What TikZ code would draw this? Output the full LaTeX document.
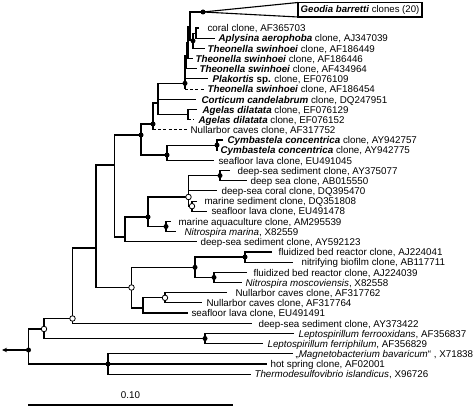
\documentclass[tikz,border=0pt]{standalone}
\usepackage{fontspec}
\setmainfont{Liberation Sans}
\usetikzlibrary{arrows.meta}
\newcommand\bi[1]{\textbf{\textit{#1}}}
\tikzset{
  lab/.style={anchor=base west, inner sep=0pt, font=\fontsize{9.8}{11}\selectfont},
  dsh/.style={dash pattern=on 3pt off 2.2pt},
  bdot/.style={circle, fill=black, inner sep=0pt, minimum size=5pt},
  wdot/.style={circle, draw=black, fill=white, line width=0.8pt, inner sep=0pt, minimum size=5.5pt},
}
\begin{document}
\begin{tikzpicture}[x=1pt,y=-1pt,line width=1.1pt]
\useasboundingbox (0,0) rectangle (474,406);
% internal nodes
\coordinate (geo) at (203,12);
\coordinate (nA) at (196,33.1);
\coordinate (nB) at (193,40.8);
\coordinate (n1) at (190,26.4);
\coordinate (n2) at (188,42.5);
\coordinate (n3) at (186.5,55.6);
\coordinate (n4) at (185,83.3);
\coordinate (nag) at (188,114.5);
\coordinate (n5) at (158,103);
\coordinate (n6) at (153,124);
\coordinate (ncy) at (217,145.1);
\coordinate (ncym) at (167,155);
\coordinate (n7) at (141,135);
\coordinate (ndd) at (220,175.6);
\coordinate (nms) at (192,206.2);
\coordinate (no1) at (188.5,197);
\coordinate (naq) at (166,226.5);
\coordinate (nds) at (148,217);
\coordinate (nd2) at (125,237);
\coordinate (n8) at (114.5,165);
\coordinate (na) at (245,257);
\coordinate (nb) at (214,277.4);
\coordinate (nfbr) at (195,267.3);
\coordinate (nnull) at (165,297.8);
\coordinate (ns) at (143,308);
\coordinate (n10) at (131.5,287.5);
\coordinate (n9) at (96,248);
\coordinate (n11) at (72.5,318.5);
\coordinate (nlep) at (205,338.5);
\coordinate (n12) at (44,329);
\coordinate (n13) at (108,364);
\coordinate (root) at (28.5,350);
\coordinate (rootend) at (2,350);
% tips
\coordinate (t0) at (199,28.0);
\coordinate (t1) at (215,38.2);
\coordinate (t2) at (205,48.4);
\coordinate (t3) at (193,58.5);
\coordinate (t4) at (197,68.7);
\coordinate (t5) at (208,78.9);
\coordinate (t6) at (204,89.1);
\coordinate (t7) at (196,99.3);
\coordinate (t8) at (197,109.4);
\coordinate (t9) at (194,119.6);
\coordinate (t10) at (187,129.8);
\coordinate (t11) at (223,140.0);
\coordinate (t12) at (218,150.2);
\coordinate (t13) at (214,160.3);
\coordinate (t14) at (230,170.5);
\coordinate (t15) at (247,180.7);
\coordinate (t16) at (217,190.9);
\coordinate (t17) at (197,201.1);
\coordinate (t18) at (207,211.2);
\coordinate (t19) at (171,221.4);
\coordinate (t20) at (176,231.6);
\coordinate (t21) at (197,241.8);
\coordinate (t22) at (272,252.0);
\coordinate (t23) at (293,262.1);
\coordinate (t24) at (247,272.3);
\coordinate (t25) at (242,282.5);
\coordinate (t26) at (227,292.7);
\coordinate (t27) at (202,302.9);
\coordinate (t28) at (188,313.0);
\coordinate (t29) at (252,323.2);
\coordinate (t30) at (294,333.4);
\coordinate (t31) at (263,343.6);
\coordinate (t32) at (293,353.8);
\coordinate (t33) at (267,364.0);
\coordinate (t34) at (251,374.1);
\coordinate (gtop) at (298,2.5);
\coordinate (gbot) at (298,17);
% branches: sponge cluster
\draw (geo) -- (gtop);
\draw (geo) -- (gbot);
\draw (t0) -| (nA) |- (t1);
\draw (nA) -| (nB) |- (t2);
\draw (geo) -| (n1) |- (nB);
\draw (n1) -| (n2) |- (t3);
\draw (n2) -| (n3) |- (t4);
\draw (n3) -| (n4) -- (n4 |- t6);
\draw (n4 |- t5) -- (t5);
\draw[dsh] (n4 |- t6) -- (t6);
\draw (t8) -| (nag) -- (nag |- t9);
\draw[dsh] (nag |- t9) -- (t9);
\draw (n4) -| (n5) |- (nag);
\draw (n5 |- t7) -- (t7);
\draw (n5) -| (n6) -- (n6 |- t10);
\draw[dsh] (n6 |- t10) -- (t10);
\draw (t11) -| (ncy) |- (t12);
\draw (ncy) -| (ncym) |- (t13);
\draw (n6) -| (n7) |- (ncym);
% deep sea cluster
\draw (t14) -| (ndd) |- (t15);
\draw (t17) -| (nms) |- (t18);
\draw (ndd) -| (no1) |- (nms);
\draw (no1 |- t16) -- (t16);
\draw (t19) -| (naq) |- (t20);
\draw (no1) -| (nds) |- (naq);
\draw (nds) -| (nd2) |- (t21);
\draw (n7) -| (n8) |- (nd2);
% lower part
\draw (t22) -| (na) |- (t23);
\draw (t24) -| (nb) |- (t25);
\draw (na) -| (nfbr) |- (nb);
\draw (t26) -| (nnull) |- (t27);
\draw (nnull) -| (ns) |- (t28);
\draw (nfbr) -| (n10) |- (ns);
\draw (n8) -| (n9) |- (n10);
\draw (n9) -| (n11) |- (t29);
\draw (t30) -| (nlep) |- (t31);
\draw (n11) -| (n12) |- (nlep);
\draw (t32) -| (n13) |- (t34);
\draw (n13) -- (t33);
\draw (n12) -| (root) |- (n13);
\draw[-{Stealth[length=5pt,width=4.5pt]}] (root) -- (rootend);
% markers
\foreach \p in {geo,nB,n4,n6,n7,ncy,ncym,ndd,naq,nds,na,nb,nfbr,nlep,n13,root}
  \node[bdot] (d\p) at (\p) {};
\foreach \p in {no1,nms,n10,nnull,n11,n12}
  \node[wdot] (w\p) at (\p) {};
% Geodia box
\draw[line width=1.5pt, fill=white] (gtop) rectangle (422,17);
\node[font=\fontsize{9.6}{11}\selectfont, inner sep=0pt] (lgeo) at (360,9.9) {\bi{Geodia barretti} clones (20)};
% labels
\node[lab] (l0) at (207,31.8) {coral clone, AF365703};
\node[lab] (l1) at (218,42.0) {\bi{Aplysina aerophoba} clone, AJ347039};
\node[lab] (l2) at (207,52.2) {\bi{Theonella swinhoei} clone, AF186449};
\node[lab] (l3) at (195,62.3) {\bi{Theonella swinhoei} clone, AF186446};
\node[lab] (l4) at (199,72.5) {\bi{Theonella swinhoei} clone, AF434964};
\node[lab] (l5) at (212,82.7) {\bi{Plakortis} \textbf{sp.} clone, EF076109};
\node[lab] (l6) at (207,92.9) {\bi{Theonella swinhoei} clone, AF186454};
\node[lab] (l7) at (201,103.1) {\bi{Corticum candelabrum} clone, DQ247951};
\node[lab] (l8) at (202,113.2) {\bi{Agelas dilatata} clone, EF076129};
\node[lab] (l9) at (198,123.4) {\bi{Agelas dilatata} clone, EF076152};
\node[lab] (l10) at (190,133.6) {Nullarbor caves clone, AF317752};
\node[lab] (l11) at (227,143.8) {\bi{Cymbastela concentrica} clone, AY942757};
\node[lab] (l12) at (220,154.0) {\bi{Cymbastela concentrica} clone, AY942775};
\node[lab] (l13) at (218,164.1) {seafloor lava clone, EU491045};
\node[lab] (l14) at (237,174.3) {deep-sea sediment clone, AY375077};
\node[lab] (l15) at (250,184.5) {deep sea clone, AB015550};
\node[lab] (l16) at (221,194.7) {deep-sea coral clone, DQ395470};
\node[lab] (l17) at (204,204.9) {marine sediment clone, DQ351808};
\node[lab] (l18) at (211,215.0) {seafloor lava clone, EU491478};
\node[lab] (l19) at (178,225.2) {marine aquaculture clone, AM295539};
\node[lab] (l20) at (184,235.4) {\textit{Nitrospira marina}, X82559};
\node[lab] (l21) at (200,245.6) {deep-sea sediment clone, AY592123};
\node[lab] (l22) at (278,255.8) {fluidized bed reactor clone, AJ224041};
\node[lab] (l23) at (301,265.9) {nitrifying biofilm clone, AB117711};
\node[lab] (l24) at (253,276.1) {fluidized bed reactor clone, AJ224039};
\node[lab] (l25) at (245,286.3) {\textit{Nitrospira moscoviensis}, X82558};
\node[lab] (l26) at (235,296.5) {Nullarbor caves clone, AF317762};
\node[lab] (l27) at (206,306.7) {Nullarbor caves clone, AF317764};
\node[lab] (l28) at (191,316.8) {seafloor lava clone, EU491491};
\node[lab] (l29) at (258,327.0) {deep-sea sediment clone, AY373422};
\node[lab] (l30) at (298,337.2) {\textit{Leptospirillum ferrooxidans}, AF356837};
\node[lab] (l31) at (267,347.4) {\textit{Leptospirillum ferriphilum}, AF356829};
\node[lab] (l32) at (295,357.6) {„\textit{Magnetobacterium bavaricum}“ , X71838};
\node[lab] (l33) at (270,367.8) {hot spring clone, AF02001};
\node[lab] (l34) at (254,377.9) {\textit{Thermodesulfovibrio islandicus}, X96726};
% scale bar
\coordinate (sb1) at (28,404.5);
\coordinate (sb2) at (233,404.5);
\draw[line width=2pt] (sb1) -- (sb2);
\node[font=\fontsize{9.8}{11}\selectfont, inner sep=0pt] (sbl) at (130.5,395.5) {0.10};
\end{tikzpicture}
\end{document}
